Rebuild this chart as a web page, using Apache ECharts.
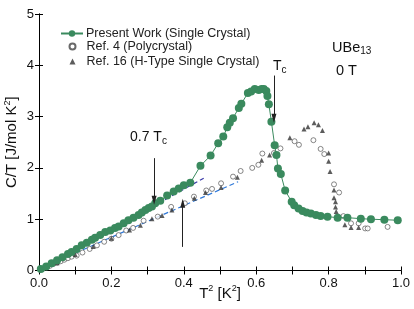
<!DOCTYPE html>
<html><head><meta charset="utf-8">
<script src="https://cdn.jsdelivr.net/npm/echarts@6/dist/echarts.min.js"></script>
<style>html,body{margin:0;padding:0;background:#fff}#c{width:414px;height:309px}</style>
</head><body><div id="c"></div>
<script>
// Present Work (Single Crystal): [T^2, C/T]
const presentX = [0.005,0.02,0.035,0.05,0.065,0.08,0.09,0.104,0.118,0.132,0.146,0.155,0.169,0.183,0.197,0.21,0.22,0.234,0.247,0.261,0.275,0.284,0.294,0.303,0.312,0.321,0.335,0.354,0.372,0.386,0.4,0.418,0.446,0.474,0.495,0.509,0.52,0.527,0.536,0.552,0.559,0.577,0.586,0.596,0.607,0.615,0.621,0.628,0.631,0.635,0.642,0.651,0.656,0.66,0.668,0.68,0.698,0.705,0.717,0.728,0.739,0.751,0.765,0.778,0.797,0.825,0.852,0.889,0.917,0.954,0.991];
const presentY = [0.03,0.08,0.14,0.2,0.26,0.32,0.36,0.42,0.49,0.54,0.6,0.64,0.69,0.75,0.78,0.83,0.86,0.92,0.98,1.03,1.08,1.13,1.18,1.22,1.25,1.31,1.36,1.46,1.54,1.6,1.66,1.71,2.04,2.24,2.48,2.61,2.79,2.88,2.97,3.17,3.25,3.46,3.49,3.54,3.52,3.54,3.54,3.5,3.4,3.24,2.9,2.44,2.25,1.99,1.88,1.56,1.34,1.27,1.21,1.16,1.13,1.11,1.08,1.06,1.05,1.03,1.03,1.01,1.0,0.99,0.98];
// Ref. 4 (Polycrystal)
const ref4X = [0.01,0.02,0.03,0.04,0.05,0.06,0.07,0.08,0.09,0.104,0.12,0.14,0.16,0.18,0.2,0.22,0.241,0.26,0.289,0.328,0.365,0.403,0.428,0.462,0.478,0.503,0.536,0.557,0.589,0.606,0.617,0.649,0.667,0.706,0.718,0.758,0.778,0.788,0.815,0.829,0.841,0.862,0.883,0.901,0.908,0.963];
const ref4Y = [0.03,0.06,0.09,0.13,0.15,0.18,0.21,0.24,0.27,0.29,0.35,0.42,0.49,0.56,0.62,0.69,0.78,0.83,0.97,1.05,1.24,1.31,1.44,1.56,1.59,1.7,1.83,1.94,2.0,2.06,2.28,2.29,2.38,2.52,2.45,2.54,2.37,2.27,1.68,1.52,1.06,0.92,0.92,0.82,0.82,0.85];
// Ref. 16 (H-Type Single Crystal)
const ref16X = [0.05,0.1,0.15,0.2,0.25,0.28,0.312,0.34,0.367,0.429,0.46,0.503,0.548,0.615,0.637,0.693,0.732,0.743,0.76,0.772,0.783,0.8,0.8,0.804,0.815,0.815,0.819,0.819,0.821,0.845,0.862,0.883];
const ref16Y = [0.15,0.31,0.47,0.63,0.79,0.88,1.01,1.07,1.18,1.41,1.52,1.62,1.82,2.15,2.25,2.59,2.76,2.8,2.88,2.84,2.73,2.29,2.13,1.93,1.57,1.42,1.34,1.24,1.15,0.89,0.84,0.84];
// guide lines
const fit1X = [0.0,0.455], fit1Y = [0.02,1.8];
const fit2X = [0.0,0.55],  fit2Y = [0.03,1.73];
const xTicks = [0,0.2,0.4,0.6,0.8,1.0];
const yTicks = [0,1,2,3,4,5];

const zip = (a,b)=>a.map((v,i)=>[v,b[i]]);
const FONT = 'Liberation Sans, Arial, sans-serif';
const green = '#3a8a5e';
const chart = echarts.init(document.getElementById('c'));
const axisCommon = {
  axisLine:{lineStyle:{color:'#000',width:1}},
  axisTick:{inside:true,length:4,lineStyle:{color:'#000'}},
  splitLine:{show:false}
};
const supRich = {
  a:{fontSize:15,fill:'#111',color:'#111',fontFamily:FONT},
  p:{fontSize:9,color:'#111',fontFamily:FONT,padding:[0,0,9,0]}
};
chart.setOption({
  animation:false,
  textStyle:{fontFamily:FONT},
  grid:{left:39,right:13,top:14,bottom:38.5,containLabel:false,outerBoundsMode:'none'},
  legend:[
    {orient:'vertical',left:55,top:22,itemWidth:22,itemHeight:8,
      textStyle:{fontSize:12.5,color:'#222',fontFamily:FONT,padding:[0,0,0,-2]},
      data:['Present Work (Single Crystal)']},
    {orient:'vertical',left:63.5,top:35,itemGap:2,itemWidth:6,itemHeight:6,
      textStyle:{fontSize:12.5,color:'#222',fontFamily:FONT,padding:[0,0,0,6]},
      data:['Ref. 4 (Polycrystal)','Ref. 16 (H-Type Single Crystal)']}
  ],
  xAxis:[
    Object.assign({type:'value',min:0,max:1,interval:0.2,position:'bottom',
      minorTick:{show:true,splitNumber:2,length:4,lineStyle:{color:'#000'}},
      axisLabel:{fontSize:13,color:'#111',margin:6,formatter:v=>v.toFixed(1)},
      name:'{a|T}{p|2}{a| [K}{p|2}{a|]}',nameLocation:'middle',nameGap:14,nameMoveOverlap:false,
      nameTextStyle:{rich:supRich,verticalAlign:'top'}},axisCommon),
    Object.assign({type:'value',min:0,max:1,interval:0.2,position:'top',
      minorTick:{show:true,splitNumber:2,length:4,lineStyle:{color:'#000'}},
      axisLabel:{show:false}},axisCommon)
  ],
  yAxis:[
    Object.assign({type:'value',min:0,max:5,interval:1,position:'left',
      axisLabel:{fontSize:13,color:'#111',margin:5},
      name:'{a|C/T [J/mol K}{p|2}{a|]}',nameLocation:'middle',nameGap:18,nameRotate:90,nameMoveOverlap:false,
      nameTextStyle:{rich:supRich}},axisCommon),
    Object.assign({type:'value',min:0,max:5,interval:1,position:'right',axisLabel:{show:false}},axisCommon)
  ],
  series:[
    {name:'fit1',type:'line',data:zip(fit1X,fit1Y),symbol:'none',z:1,
      lineStyle:{color:'#3a3aa8',width:1.2,type:[5,3]}},
    {name:'fit2',type:'line',data:zip(fit2X,fit2Y),symbol:'none',z:1,
      lineStyle:{color:'#2f78d8',width:1.2,type:[5,3]}},
    {name:'Ref. 4 (Polycrystal)',type:'scatter',data:zip(ref4X,ref4Y),symbol:'circle',symbolSize:5,z:2,
      itemStyle:{color:'#fff',borderColor:'#444',borderWidth:0.8}},
    {name:'Ref. 16 (H-Type Single Crystal)',type:'scatter',data:zip(ref16X,ref16Y),symbol:'triangle',symbolSize:5,z:2,
      itemStyle:{color:'#333'}},
    {name:'Present Work (Single Crystal)',type:'line',data:zip(presentX,presentY),symbol:'circle',symbolSize:8,z:3,
      showAllSymbol:true,
      lineStyle:{color:green,width:1},itemStyle:{color:green,borderWidth:0},
      markLine:{silent:true,symbol:['none','none'],label:{show:false},
        lineStyle:{color:'#222',width:1,type:'solid'},
        data:[
          [{coord:[0.649,3.8],symbol:'none'},{coord:[0.649,2.97],symbol:'triangle',symbolSize:[5,9],symbolRotate:180}],
          [{coord:[0.318,2.19],symbol:'none'},{coord:[0.318,1.37],symbol:'triangle',symbolSize:[5,9],symbolRotate:180}],
          [{coord:[0.397,0.46],symbol:'none'},{coord:[0.397,1.31],symbol:'triangle',symbolSize:[5,9]}]
        ]}}
  ],
  graphic:[
    {type:'text',left:130,top:130,style:{rich:{a:{fontSize:14,fill:'#111',fontFamily:FONT},s:{fontSize:10,fill:'#111',fontFamily:FONT,padding:[8,0,0,0]}},text:'{a|0.7 T}{s|c}'}},
    {type:'text',left:273,top:59,style:{rich:{a:{fontSize:14,fill:'#111',fontFamily:FONT},s:{fontSize:10,fill:'#111',fontFamily:FONT,padding:[8,0,0,0]}},text:'{a|T}{s|c}'}},
    {type:'text',left:332,top:40,style:{rich:{a:{fontSize:14.5,fill:'#111',fontFamily:FONT},s:{fontSize:10,fill:'#111',fontFamily:FONT,padding:[8,0,0,0]}},text:'{a|UBe}{s|13}'}},
    {type:'text',left:336,top:63,style:{text:'0 T',fontSize:14.5,fill:'#111',fontFamily:FONT}}
  ]
});
</script></body></html>
